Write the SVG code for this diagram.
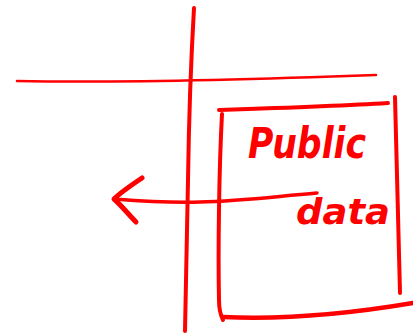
<svg xmlns="http://www.w3.org/2000/svg" width="413" height="333" viewBox="0 0 413 333">
<style>
.ink{fill:none;stroke:#ff0000;stroke-linecap:round;stroke-linejoin:round}
.hand{fill:#ff0000;font-family:"DejaVu Sans","Liberation Sans",sans-serif;font-style:italic;font-weight:bold}
</style>
<rect width="413" height="333" fill="#ffffff"/>
<g id="axes">
<path class="ink" d="M194,8 C191,60 189,110 188,180 C187,240 186,290 185,331" stroke-width="4"/>
<path class="ink" d="M17,81 C120,83 240,80 376,75" stroke-width="2.5"/>
</g>
<g id="public-data-box">
<path class="ink" d="M219,110 C280,108 340,106 388,103" stroke-width="4"/>
<path class="ink" d="M222,114 C219,170 218,250 219,300 C219,310 221,316 223,320" stroke-width="4"/>
<path class="ink" d="M395,97 C397,160 398,230 400,293" stroke-width="4"/>
<path class="ink" d="M223,317 C290,320 360,312 413,303" stroke-width="4.5"/>
<text class="hand" x="248" y="158" font-size="42" textLength="118" lengthAdjust="spacingAndGlyphs">Public</text>
<text class="hand" x="296" y="224" font-size="36" textLength="94" lengthAdjust="spacingAndGlyphs">data</text>
</g>
<g id="connectors">
<path class="ink" d="M317,193 C270,197 240,201 200,202 C170,203 140,201 114,199" stroke-width="3.5"/>
<path class="ink" d="M142,178 C130,186 120,193 114,199 C122,206 128,214 136,222" stroke-width="5"/>
</g>
</svg>
